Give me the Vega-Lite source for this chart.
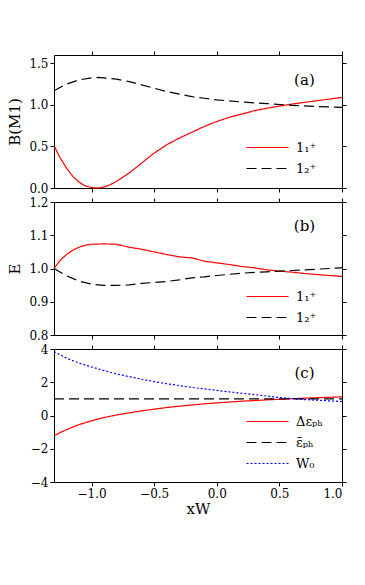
{
  "$schema": "https://vega.github.io/schema/vega-lite/v6.json",
  "background": "white",
  "padding": {"left": 7, "top": 50, "right": 5, "bottom": 5},
  "bounds": "flush",
  "spacing": 14,
  "config": {
    "view": {"stroke": null},
    "axis": {"grid": false, "domainColor": "black", "tickColor": "black", "labelColor": "black", "tickSize": 4, "labelFont": "DejaVu Serif", "labelFontSize": 12, "titleFont": "DejaVu Serif", "titleFontSize": 15, "titleFontWeight": "normal", "titleColor": "black", "labelPadding": 2},
    "legend": {"labelFont": "DejaVu Serif", "labelFontSize": 13, "labelColor": "black"}
  },
  "resolve": {"scale": {"color": "independent", "strokeDash": "independent"}, "legend": {"color": "independent", "strokeDash": "independent"}},
  "vconcat": [
    {
      "width": 288, "height": 133,
      "data": {"values": [
        {"x": -1.3, "y": 0.51, "s": "1₁⁺"}, {"x": -1.25, "y": 0.36, "s": "1₁⁺"}, {"x": -1.2, "y": 0.24, "s": "1₁⁺"}, {"x": -1.15, "y": 0.14, "s": "1₁⁺"}, {"x": -1.1, "y": 0.07, "s": "1₁⁺"}, {"x": -1.05, "y": 0.025, "s": "1₁⁺"}, {"x": -1.0, "y": 0.004, "s": "1₁⁺"}, {"x": -0.95, "y": 0.0, "s": "1₁⁺"}, {"x": -0.9, "y": 0.012, "s": "1₁⁺"}, {"x": -0.85, "y": 0.04, "s": "1₁⁺"}, {"x": -0.8, "y": 0.08, "s": "1₁⁺"}, {"x": -0.7, "y": 0.18, "s": "1₁⁺"}, {"x": -0.6, "y": 0.30, "s": "1₁⁺"}, {"x": -0.5, "y": 0.42, "s": "1₁⁺"}, {"x": -0.4, "y": 0.52, "s": "1₁⁺"}, {"x": -0.3, "y": 0.60, "s": "1₁⁺"}, {"x": -0.2, "y": 0.67, "s": "1₁⁺"}, {"x": -0.1, "y": 0.74, "s": "1₁⁺"}, {"x": 0.0, "y": 0.80, "s": "1₁⁺"}, {"x": 0.1, "y": 0.85, "s": "1₁⁺"}, {"x": 0.2, "y": 0.89, "s": "1₁⁺"}, {"x": 0.3, "y": 0.93, "s": "1₁⁺"}, {"x": 0.4, "y": 0.96, "s": "1₁⁺"}, {"x": 0.5, "y": 0.985, "s": "1₁⁺"}, {"x": 0.6, "y": 1.01, "s": "1₁⁺"}, {"x": 0.7, "y": 1.03, "s": "1₁⁺"}, {"x": 0.8, "y": 1.05, "s": "1₁⁺"}, {"x": 0.9, "y": 1.07, "s": "1₁⁺"}, {"x": 1.0, "y": 1.09, "s": "1₁⁺"},
        {"x": -1.3, "y": 1.17, "s": "1₂⁺"}, {"x": -1.2, "y": 1.25, "s": "1₂⁺"}, {"x": -1.1, "y": 1.30, "s": "1₂⁺"}, {"x": -1.0, "y": 1.325, "s": "1₂⁺"}, {"x": -0.95, "y": 1.33, "s": "1₂⁺"}, {"x": -0.9, "y": 1.325, "s": "1₂⁺"}, {"x": -0.8, "y": 1.31, "s": "1₂⁺"}, {"x": -0.7, "y": 1.28, "s": "1₂⁺"}, {"x": -0.6, "y": 1.24, "s": "1₂⁺"}, {"x": -0.5, "y": 1.20, "s": "1₂⁺"}, {"x": -0.4, "y": 1.16, "s": "1₂⁺"}, {"x": -0.3, "y": 1.13, "s": "1₂⁺"}, {"x": -0.2, "y": 1.10, "s": "1₂⁺"}, {"x": -0.1, "y": 1.08, "s": "1₂⁺"}, {"x": 0.0, "y": 1.06, "s": "1₂⁺"}, {"x": 0.2, "y": 1.035, "s": "1₂⁺"}, {"x": 0.4, "y": 1.015, "s": "1₂⁺"}, {"x": 0.6, "y": 0.995, "s": "1₂⁺"}, {"x": 0.8, "y": 0.98, "s": "1₂⁺"}, {"x": 1.0, "y": 0.97, "s": "1₂⁺"}
      ]},
      "layer": [
        {
          "mark": {"type": "line", "strokeWidth": 1.2},
          "encoding": {
            "x": {"field": "x", "type": "quantitative", "scale": {"domain": [-1.3, 1.0], "nice": false, "zero": false}, "axis": {"values": [-1, -0.5, 0, 0.5, 1], "labels": false, "title": null}},
            "y": {"field": "y", "type": "quantitative", "scale": {"domain": [0, 1.6], "nice": false}, "axis": {"values": [0, 0.5, 1, 1.5], "format": ".1f", "title": "B(M1)", "titlePadding": 6}},
            "color": {"field": "s", "type": "nominal", "scale": {"domain": ["1₁⁺", "1₂⁺"], "range": ["#ff0000", "#000000"]}, "legend": {"orient": "none", "legendX": 207, "legendY": 86, "title": null, "symbolType": "M-21,0H21", "symbolSize": 4, "symbolStrokeWidth": 1.2, "labelOffset": 22, "rowPadding": 7}},
            "strokeDash": {"field": "s", "type": "nominal", "scale": {"domain": ["1₁⁺", "1₂⁺"], "range": [[1, 0], [10, 5]]}, "legend": {"orient": "none", "legendX": 207, "legendY": 86, "title": null, "symbolType": "M-21,0H21", "symbolSize": 4, "symbolStrokeWidth": 1.2, "labelOffset": 22, "rowPadding": 7}}
          }
        },
        {
          "mark": {"type": "point", "opacity": 0},
          "encoding": {
            "x": {"field": "x", "type": "quantitative", "scale": {"domain": [-1.3, 1.0], "nice": false, "zero": false}, "axis": {"orient": "top", "values": [-1, -0.5, 0, 0.5, 1], "labels": false, "title": null}},
            "y": {"field": "y", "type": "quantitative", "scale": {"domain": [0, 1.6], "nice": false}, "axis": {"orient": "right", "values": [0, 0.5, 1, 1.5], "labels": false, "title": null}}
          }
        },
        {
          "data": {"values": [{"x": 0.7, "y": 1.3, "t": "(a)"}]},
          "mark": {"type": "text", "font": "DejaVu Serif", "fontSize": 15},
          "encoding": {
            "x": {"field": "x", "type": "quantitative", "scale": {"domain": [-1.3, 1.0], "nice": false, "zero": false}, "axis": null},
            "y": {"field": "y", "type": "quantitative", "scale": {"domain": [0, 1.6], "nice": false}, "axis": null},
            "text": {"field": "t"}
          }
        }
      ],
      "resolve": {"scale": {"x": "independent", "y": "independent"}, "axis": {"x": "independent", "y": "independent"}}
    },
    {
      "width": 288, "height": 133,
      "data": {"values": [
        {"x": -1.3, "y": 1.0, "s": "1₁⁺"}, {"x": -1.25, "y": 1.025, "s": "1₁⁺"}, {"x": -1.2, "y": 1.042, "s": "1₁⁺"}, {"x": -1.15, "y": 1.055, "s": "1₁⁺"}, {"x": -1.1, "y": 1.064, "s": "1₁⁺"}, {"x": -1.05, "y": 1.07, "s": "1₁⁺"}, {"x": -1.0, "y": 1.073, "s": "1₁⁺"}, {"x": -0.9, "y": 1.074, "s": "1₁⁺"}, {"x": -0.8, "y": 1.073, "s": "1₁⁺"}, {"x": -0.7, "y": 1.064, "s": "1₁⁺"}, {"x": -0.6, "y": 1.058, "s": "1₁⁺"}, {"x": -0.5, "y": 1.05, "s": "1₁⁺"}, {"x": -0.4, "y": 1.042, "s": "1₁⁺"}, {"x": -0.3, "y": 1.035, "s": "1₁⁺"}, {"x": -0.2, "y": 1.032, "s": "1₁⁺"}, {"x": -0.1, "y": 1.022, "s": "1₁⁺"}, {"x": 0.0, "y": 1.017, "s": "1₁⁺"}, {"x": 0.1, "y": 1.012, "s": "1₁⁺"}, {"x": 0.2, "y": 1.006, "s": "1₁⁺"}, {"x": 0.3, "y": 1.002, "s": "1₁⁺"}, {"x": 0.4, "y": 0.996, "s": "1₁⁺"}, {"x": 0.5, "y": 0.992, "s": "1₁⁺"}, {"x": 0.6, "y": 0.989, "s": "1₁⁺"}, {"x": 0.7, "y": 0.985, "s": "1₁⁺"}, {"x": 0.8, "y": 0.982, "s": "1₁⁺"}, {"x": 0.9, "y": 0.979, "s": "1₁⁺"}, {"x": 1.0, "y": 0.976, "s": "1₁⁺"},
        {"x": -1.3, "y": 1.0, "s": "1₂⁺"}, {"x": -1.2, "y": 0.978, "s": "1₂⁺"}, {"x": -1.1, "y": 0.962, "s": "1₂⁺"}, {"x": -1.0, "y": 0.953, "s": "1₂⁺"}, {"x": -0.9, "y": 0.949, "s": "1₂⁺"}, {"x": -0.8, "y": 0.949, "s": "1₂⁺"}, {"x": -0.7, "y": 0.951, "s": "1₂⁺"}, {"x": -0.6, "y": 0.955, "s": "1₂⁺"}, {"x": -0.5, "y": 0.958, "s": "1₂⁺"}, {"x": -0.4, "y": 0.961, "s": "1₂⁺"}, {"x": -0.3, "y": 0.966, "s": "1₂⁺"}, {"x": -0.2, "y": 0.972, "s": "1₂⁺"}, {"x": -0.1, "y": 0.975, "s": "1₂⁺"}, {"x": 0.0, "y": 0.979, "s": "1₂⁺"}, {"x": 0.2, "y": 0.986, "s": "1₂⁺"}, {"x": 0.4, "y": 0.99, "s": "1₂⁺"}, {"x": 0.6, "y": 0.994, "s": "1₂⁺"}, {"x": 0.8, "y": 0.998, "s": "1₂⁺"}, {"x": 1.0, "y": 1.002, "s": "1₂⁺"}
      ]},
      "layer": [
        {
          "mark": {"type": "line", "strokeWidth": 1.2},
          "encoding": {
            "x": {"field": "x", "type": "quantitative", "scale": {"domain": [-1.3, 1.0], "nice": false, "zero": false}, "axis": {"values": [-1, -0.5, 0, 0.5, 1], "labels": false, "title": null}},
            "y": {"field": "y", "type": "quantitative", "scale": {"domain": [0.8, 1.2], "nice": false, "zero": false}, "axis": {"values": [0.8, 0.9, 1.0, 1.1, 1.2], "format": ".1f", "title": "E", "titlePadding": 6}},
            "color": {"field": "s", "type": "nominal", "scale": {"domain": ["1₁⁺", "1₂⁺"], "range": ["#ff0000", "#000000"]}, "legend": {"orient": "none", "legendX": 207, "legendY": 88, "title": null, "symbolType": "M-21,0H21", "symbolSize": 4, "symbolStrokeWidth": 1.2, "labelOffset": 22, "rowPadding": 7}},
            "strokeDash": {"field": "s", "type": "nominal", "scale": {"domain": ["1₁⁺", "1₂⁺"], "range": [[1, 0], [10, 5]]}, "legend": {"orient": "none", "legendX": 207, "legendY": 88, "title": null, "symbolType": "M-21,0H21", "symbolSize": 4, "symbolStrokeWidth": 1.2, "labelOffset": 22, "rowPadding": 7}}
          }
        },
        {
          "mark": {"type": "point", "opacity": 0},
          "encoding": {
            "x": {"field": "x", "type": "quantitative", "scale": {"domain": [-1.3, 1.0], "nice": false, "zero": false}, "axis": {"orient": "top", "values": [-1, -0.5, 0, 0.5, 1], "labels": false, "title": null}},
            "y": {"field": "y", "type": "quantitative", "scale": {"domain": [0.8, 1.2], "nice": false, "zero": false}, "axis": {"orient": "right", "values": [0.8, 0.9, 1.0, 1.1, 1.2], "labels": false, "title": null}}
          }
        },
        {
          "data": {"values": [{"x": 0.7, "y": 1.128, "t": "(b)"}]},
          "mark": {"type": "text", "font": "DejaVu Serif", "fontSize": 15},
          "encoding": {
            "x": {"field": "x", "type": "quantitative", "scale": {"domain": [-1.3, 1.0], "nice": false, "zero": false}, "axis": null},
            "y": {"field": "y", "type": "quantitative", "scale": {"domain": [0.8, 1.2], "nice": false, "zero": false}, "axis": null},
            "text": {"field": "t"}
          }
        }
      ],
      "resolve": {"scale": {"x": "independent", "y": "independent"}, "axis": {"x": "independent", "y": "independent"}}
    },
    {
      "width": 288, "height": 133,
      "data": {"values": [
        {"x": -1.3, "y": -1.22, "s": "Δεₚₕ"}, {"x": -1.25, "y": -1.02, "s": "Δεₚₕ"}, {"x": -1.2, "y": -0.85, "s": "Δεₚₕ"}, {"x": -1.1, "y": -0.55, "s": "Δεₚₕ"}, {"x": -1.0, "y": -0.32, "s": "Δεₚₕ"}, {"x": -0.9, "y": -0.12, "s": "Δεₚₕ"}, {"x": -0.8, "y": 0.03, "s": "Δεₚₕ"}, {"x": -0.7, "y": 0.16, "s": "Δεₚₕ"}, {"x": -0.6, "y": 0.28, "s": "Δεₚₕ"}, {"x": -0.5, "y": 0.38, "s": "Δεₚₕ"}, {"x": -0.4, "y": 0.48, "s": "Δεₚₕ"}, {"x": -0.3, "y": 0.56, "s": "Δεₚₕ"}, {"x": -0.2, "y": 0.63, "s": "Δεₚₕ"}, {"x": -0.1, "y": 0.70, "s": "Δεₚₕ"}, {"x": 0.0, "y": 0.76, "s": "Δεₚₕ"}, {"x": 0.2, "y": 0.86, "s": "Δεₚₕ"}, {"x": 0.4, "y": 0.94, "s": "Δεₚₕ"}, {"x": 0.6, "y": 1.01, "s": "Δεₚₕ"}, {"x": 0.8, "y": 1.07, "s": "Δεₚₕ"}, {"x": 1.0, "y": 1.12, "s": "Δεₚₕ"},
        {"x": -1.3, "y": 1.0, "s": "ε̄ₚₕ"}, {"x": 1.0, "y": 1.0, "s": "ε̄ₚₕ"},
        {"x": -1.3, "y": 3.84, "s": "W₀"}, {"x": -1.2, "y": 3.45, "s": "W₀"}, {"x": -1.1, "y": 3.15, "s": "W₀"}, {"x": -1.0, "y": 2.92, "s": "W₀"}, {"x": -0.9, "y": 2.70, "s": "W₀"}, {"x": -0.8, "y": 2.50, "s": "W₀"}, {"x": -0.7, "y": 2.34, "s": "W₀"}, {"x": -0.6, "y": 2.18, "s": "W₀"}, {"x": -0.5, "y": 2.04, "s": "W₀"}, {"x": -0.4, "y": 1.91, "s": "W₀"}, {"x": -0.3, "y": 1.80, "s": "W₀"}, {"x": -0.2, "y": 1.69, "s": "W₀"}, {"x": -0.1, "y": 1.60, "s": "W₀"}, {"x": 0.0, "y": 1.51, "s": "W₀"}, {"x": 0.1, "y": 1.42, "s": "W₀"}, {"x": 0.2, "y": 1.34, "s": "W₀"}, {"x": 0.3, "y": 1.26, "s": "W₀"}, {"x": 0.4, "y": 1.17, "s": "W₀"}, {"x": 0.5, "y": 1.08, "s": "W₀"}, {"x": 0.6, "y": 1.02, "s": "W₀"}, {"x": 0.7, "y": 0.96, "s": "W₀"}, {"x": 0.8, "y": 0.92, "s": "W₀"}, {"x": 0.9, "y": 0.88, "s": "W₀"}, {"x": 1.0, "y": 0.84, "s": "W₀"}
      ]},
      "layer": [
        {
          "mark": {"type": "line", "strokeWidth": 1.2},
          "encoding": {
            "x": {"field": "x", "type": "quantitative", "scale": {"domain": [-1.3, 1.0], "nice": false, "zero": false}, "axis": {"values": [-1, -0.5, 0, 0.5, 1], "format": ".1f", "title": "xW", "titlePadding": 2}},
            "y": {"field": "y", "type": "quantitative", "scale": {"domain": [-4, 4], "nice": false}, "axis": {"values": [-4, -2, 0, 2, 4], "format": "d", "title": null}},
            "color": {"field": "s", "type": "nominal", "scale": {"domain": ["Δεₚₕ", "ε̄ₚₕ", "W₀"], "range": ["#ff0000", "#000000", "#0000ff"]}, "legend": {"orient": "none", "legendX": 207, "legendY": 66, "title": null, "symbolType": "M-21,0H21", "symbolSize": 4, "symbolStrokeWidth": 1.2, "labelOffset": 22, "rowPadding": 7}},
            "strokeDash": {"field": "s", "type": "nominal", "scale": {"domain": ["Δεₚₕ", "ε̄ₚₕ", "W₀"], "range": [[1, 0], [10, 5], [2, 2]]}, "legend": {"orient": "none", "legendX": 207, "legendY": 66, "title": null, "symbolType": "M-21,0H21", "symbolSize": 4, "symbolStrokeWidth": 1.2, "labelOffset": 22, "rowPadding": 7}}
          }
        },
        {
          "mark": {"type": "point", "opacity": 0},
          "encoding": {
            "x": {"field": "x", "type": "quantitative", "scale": {"domain": [-1.3, 1.0], "nice": false, "zero": false}, "axis": {"orient": "top", "values": [-1, -0.5, 0, 0.5, 1], "labels": false, "title": null}},
            "y": {"field": "y", "type": "quantitative", "scale": {"domain": [-4, 4], "nice": false}, "axis": {"orient": "right", "values": [-4, -2, 0, 2, 4], "labels": false, "title": null}}
          }
        },
        {
          "data": {"values": [{"x": 0.7, "y": 2.54, "t": "(c)"}]},
          "mark": {"type": "text", "font": "DejaVu Serif", "fontSize": 15},
          "encoding": {
            "x": {"field": "x", "type": "quantitative", "scale": {"domain": [-1.3, 1.0], "nice": false, "zero": false}, "axis": null},
            "y": {"field": "y", "type": "quantitative", "scale": {"domain": [-4, 4], "nice": false}, "axis": null},
            "text": {"field": "t"}
          }
        }
      ],
      "resolve": {"scale": {"x": "independent", "y": "independent"}, "axis": {"x": "independent", "y": "independent"}}
    }
  ]
}
